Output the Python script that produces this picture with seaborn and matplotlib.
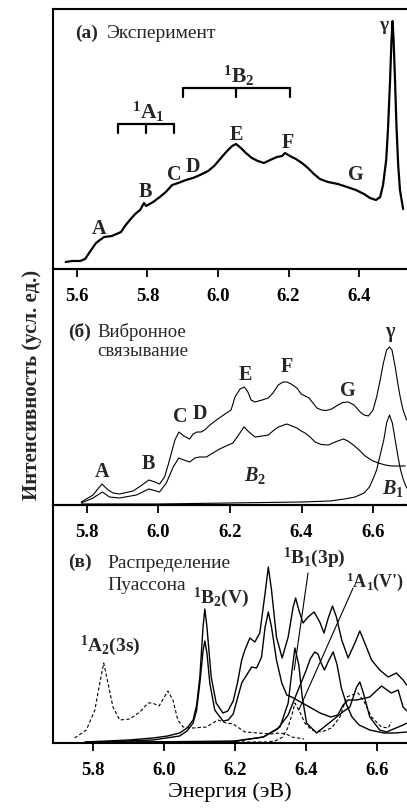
import matplotlib
matplotlib.use("Agg")
import matplotlib.pyplot as plt
import seaborn as sns

# (а) experiment
exp_e = [5.568, 5.586, 5.609, 5.623, 5.640, 5.654, 5.665, 5.677, 5.699, 5.725,
         5.736, 5.750, 5.765, 5.779, 5.790, 5.796, 5.816, 5.835, 5.852, 5.870,
         5.887, 5.909, 5.929, 5.949, 5.972, 5.989, 6.006, 6.023, 6.040, 6.051,
         6.065, 6.079, 6.096, 6.113, 6.130, 6.148, 6.167, 6.182, 6.190, 6.204,
         6.221, 6.238, 6.255, 6.272, 6.289, 6.312, 6.340, 6.366, 6.391, 6.414,
         6.431, 6.448, 6.460, 6.468, 6.477, 6.482, 6.488, 6.492, 6.495, 6.498,
         6.502, 6.506, 6.511, 6.516, 6.525]
exp_i = [7, 8, 8, 10, 19, 26, 29, 32, 33, 37,
         43, 49, 55, 59, 66, 63, 67, 72, 77, 84,
         86, 89, 91, 94, 98, 103, 110, 117, 123, 125,
         121, 116, 111, 108, 106, 109, 112, 113, 116, 113,
         110, 106, 101, 95, 90, 87, 85, 82, 79, 75,
         71, 69, 72, 84, 109, 139, 189, 229, 248, 229,
         189, 144, 104, 79, 60]
a1_prog = [5.715, 5.795, 5.876]
b2_prog = [5.900, 6.051, 6.205]
peaks_a = ["A", "B", "C", "D", "E", "F", "G"]
peaks_a_e = [5.662, 5.793, 5.875, 5.929, 6.051, 6.199, 6.391]

# (б) vibronic coupling
vib_tot_e = [5.784, 5.817, 5.828, 5.842, 5.859, 5.873, 5.891, 5.929, 5.954, 5.973,
             5.990, 6.003, 6.017, 6.027, 6.036, 6.046, 6.057, 6.071, 6.087, 6.097,
             6.108, 6.119, 6.129, 6.144, 6.162, 6.178, 6.190, 6.203, 6.214, 6.228,
             6.240, 6.250, 6.259, 6.270, 6.290, 6.307, 6.320, 6.335, 6.348, 6.359,
             6.371, 6.387, 6.399, 6.410, 6.421, 6.432, 6.443, 6.456, 6.469, 6.484,
             6.502, 6.516, 6.531, 6.547, 6.564, 6.575, 6.587, 6.600, 6.610, 6.620,
             6.629, 6.638, 6.646, 6.653, 6.662, 6.670, 6.676, 6.684, 6.694]
vib_tot_i = [3, 10, 15, 21, 15, 12, 11, 14, 20, 25,
             23, 21, 28, 40, 52, 65, 73, 69, 66, 71,
             73, 73, 75, 80, 85, 89, 92, 95, 108, 116,
             118, 113, 105, 103, 105, 107, 112, 120, 123, 123,
             121, 117, 111, 109, 107, 102, 97, 95, 94.5, 96,
             100, 102.5, 103, 100, 93, 90, 89, 95, 108, 125,
             142, 155, 158, 155, 138, 120, 108, 95, 85]
vib_b2_e = [5.784, 5.817, 5.843, 5.863, 5.891, 5.938, 5.973, 6.003, 6.022, 6.041,
            6.057, 6.071, 6.087, 6.102, 6.115, 6.134, 6.152, 6.171, 6.189, 6.208,
            6.222, 6.239, 6.253, 6.270, 6.290, 6.307, 6.320, 6.335, 6.359, 6.373,
            6.387, 6.399, 6.410, 6.424, 6.438, 6.455, 6.475, 6.494, 6.517, 6.530,
            6.545, 6.561, 6.578, 6.597, 6.615, 6.634, 6.652, 6.670, 6.690]
vib_b2_i = [2, 7, 13, 8, 7, 10, 16, 13, 22, 38,
            47, 45, 43, 47, 48, 48, 52, 56, 59, 62,
            69, 78, 73, 68, 69, 70, 74, 78, 81, 79,
            77, 74, 72, 68, 63, 60.5, 60, 63, 66, 64,
            60, 55, 49, 44.5, 42, 40, 39, 39, 39]
vib_b1_e = [5.785, 6.000, 6.200, 6.400, 6.480, 6.520, 6.550, 6.575, 6.590, 6.600,
            6.610, 6.620, 6.630, 6.638, 6.646, 6.654, 6.662, 6.670, 6.677, 6.685, 6.694]
vib_b1_i = [1, 1, 2, 3, 4, 6, 8, 12, 18, 26,
            35, 50, 65, 82, 90, 82, 65, 48, 35, 25, 17]
peaks_b = ["A", "B", "C", "D", "E", "F", "G", "γ"]
peaks_b_e = [5.841, 5.971, 6.060, 6.116, 6.242, 6.360, 6.531, 6.646]

# (в) Poisson distribution
a2_e = [5.748, 5.781, 5.805, 5.819, 5.830, 5.842, 5.856, 5.875, 5.903, 5.932,
        5.955, 5.967, 5.986, 6.011, 6.025, 6.039, 6.054, 6.082, 6.119, 6.152,
        6.175, 6.195, 6.228, 6.266, 6.300, 6.327, 6.345, 6.360, 6.395]
a2_i = [5, 13, 33, 60, 80, 60, 36, 23, 24, 31,
        40, 40, 37, 52, 43, 23, 16, 15, 16, 23,
        20, 19, 11, 10, 9, 10, 9, 6, 4]
dash2_e = [5.780, 6.000, 6.200, 6.290, 6.313, 6.335, 6.350, 6.362, 6.369, 6.383,
           6.397, 6.416, 6.444, 6.472, 6.496, 6.515, 6.529, 6.547, 6.566, 6.585,
           6.613, 6.632, 6.641]
dash2_i = [1, 1, 1, 1, 2, 6, 16, 30, 40, 31,
           20, 13, 11, 15, 26, 46, 48, 50, 40, 26,
           16, 15, 21]
sum_e = [5.777, 5.900, 5.969, 6.010, 6.044, 6.065, 6.082, 6.092, 6.101, 6.110,
         6.115, 6.121, 6.133, 6.147, 6.166, 6.180, 6.195, 6.207, 6.219, 6.228,
         6.242, 6.256, 6.270, 6.285, 6.294, 6.303, 6.317, 6.333, 6.350, 6.364,
         6.371, 6.380, 6.392, 6.406, 6.423, 6.439, 6.451, 6.463, 6.475, 6.486,
         6.501, 6.519, 6.538, 6.552, 6.566, 6.585, 6.608, 6.632, 6.655, 6.674, 6.684]
sum_i = [1, 3, 5, 7, 10, 15, 23, 38, 66, 116,
         134, 116, 66, 40, 30, 32, 42, 60, 83, 93,
         105, 101, 110, 150, 176, 153, 106, 85, 106, 136,
         145, 133, 120, 126, 131, 121, 110, 125, 137, 126,
         103, 85, 100, 112, 100, 83, 73, 66, 70, 63, 58]
b2v_e = [5.777, 5.969, 6.044, 6.065, 6.082, 6.092, 6.101, 6.110, 6.115, 6.121,
         6.129, 6.143, 6.166, 6.181, 6.195, 6.219, 6.247, 6.261, 6.275, 6.285,
         6.294, 6.303, 6.317, 6.332, 6.346, 6.360, 6.380, 6.410, 6.440, 6.470,
         6.490, 6.505, 6.519, 6.543, 6.580, 6.613, 6.641, 6.660, 6.674, 6.685]
b2v_i = [0.3, 3, 7, 12, 20, 33, 60, 92, 102, 90,
         60, 33, 22, 23, 29, 60, 76, 75, 86, 116,
         131, 116, 83, 60, 48, 46, 42, 36, 30, 26,
         28, 38, 43, 43, 46, 57, 50, 53, 36, 32]
b13p_e = [5.777, 6.000, 6.186, 6.280, 6.327, 6.350, 6.360, 6.369, 6.380, 6.390,
          6.402, 6.430, 6.476, 6.504, 6.524, 6.543, 6.552, 6.562, 6.580, 6.608,
          6.627, 6.674, 6.685]
b13p_i = [0.3, 1, 1, 6, 16, 40, 70, 95, 78, 45,
          20, 10, 23, 31, 36, 56, 61, 50, 26, 13,
          11, 18, 20]
a1v_e = [5.777, 6.200, 6.280, 6.320, 6.350, 6.378, 6.400, 6.412, 6.425, 6.434,
         6.443, 6.452, 6.465, 6.477, 6.488, 6.500, 6.515, 6.530, 6.550, 6.580,
         6.620, 6.650, 6.685]
a1v_i = [0.3, 2, 6, 14, 28, 53, 72, 84, 91, 89,
         80, 73, 83, 91, 78, 55, 38, 26, 18, 13,
         10, 10, 11]

ticks_a = [5.6, 5.8, 6.0, 6.2, 6.4]
ticks_bc = [5.8, 6.0, 6.2, 6.4, 6.6]

sns.set_theme(style="ticks")
plt.rcParams.update({
    "font.family": ["Liberation Serif", "DejaVu Serif"],
    "font.weight": "bold",
    "mathtext.fontset": "custom",
    "mathtext.default": "regular",
    "mathtext.it": "Liberation Serif:italic:bold",
    "axes.linewidth": 1.5,
    "axes.edgecolor": "black",
    "xtick.color": "black",
})

W, H = 407, 811
fig = plt.figure(figsize=(W / 100, H / 100), dpi=100)


def panel(top, bottom):
    ax = fig.add_axes([53 / W, 1 - bottom / H, 1 - 53 / W, (bottom - top) / H])
    ax.set_facecolor("none")
    ax.spines["right"].set_visible(False)
    ax.set_yticks([])
    ax.set_ylabel("")
    ax.tick_params(axis="x", direction="out", length=6, width=1.3, pad=8,
                   labelsize=13.5, colors="black")
    return ax


ax1 = panel(9, 269)
ax2 = panel(269, 505)
ax3 = panel(505, 743)

# (а)
sns.lineplot(x=exp_e, y=exp_i, ax=ax1, color="black", lw=1.6)
ax1.set_xlim(5.532, 6.536)
ax1.set_ylim(0, 260)
ax1.set_xticks(ticks_a)
for prog, lvl, lab in [(a1_prog, 145, "$^1$A$_1$"), (b2_prog, 181, "$^1$B$_2$")]:
    ax1.plot([prog[0], prog[-1]], [lvl, lvl], color="black", lw=1.6)
    for p in prog:
        ax1.plot([p, p], [lvl, lvl - 9], color="black", lw=1.6)
    ax1.text(prog[1] + 0.007, lvl + 12, lab, ha="center", va="center", fontsize=15.5)
ty = [40, 77, 94, 102, 134, 126, 94]
for lab, e, y in zip(peaks_a, peaks_a_e, ty):
    ax1.text(e, y, lab, ha="center", va="center", fontsize=14.5)
ax1.text(6.471, 243, "γ", ha="center", va="center", fontsize=14)
ax1.text(5.626, 236, "(а)", ha="center", va="center", fontsize=14)
ax1.text(5.685, 236, "Эксперимент", ha="left", va="center", fontsize=14,
         fontweight="normal")

# (б)
for e, i in [(vib_tot_e, vib_tot_i), (vib_b2_e, vib_b2_i), (vib_b1_e, vib_b1_i)]:
    sns.lineplot(x=e, y=i, ax=ax2, color="black", lw=0.8)
ax2.set_xlim(5.705, 6.695)
ax2.set_ylim(0, 236)
ax2.set_xticks(ticks_bc)
ty = [33, 41, 88, 91, 130, 138, 114, 173]
for lab, e, y in zip(peaks_b, peaks_b_e, ty):
    ax2.text(e, y, lab, ha="center", va="center", fontsize=14.5)
ax2.text(6.270, 29, "$\\mathit{B}_2$", ha="center", va="center", fontsize=14.5)
ax2.text(6.657, 16, "$\\mathit{B}_1$", ha="center", va="center", fontsize=14.5)
ax2.text(5.778, 173, "(б)", ha="center", va="center", fontsize=14)
ax2.text(5.828, 173, "Вибронное", ha="left", va="center", fontsize=13.5,
         fontweight="normal")
ax2.text(5.828, 153, "связывание", ha="left", va="center", fontsize=13.5,
         fontweight="normal")

# (в)
for e, i in [(a2_e, a2_i), (dash2_e, dash2_i)]:
    sns.lineplot(x=e, y=i, ax=ax3, color="black", lw=0.8, linestyle=(0, (3, 2)))
for e, i in [(sum_e, sum_i), (b2v_e, b2v_i), (b13p_e, b13p_i), (a1v_e, a1v_i)]:
    sns.lineplot(x=e, y=i, ax=ax3, color="black", lw=1.0)
ax3.set_xlim(5.687, 6.685)
ax3.set_ylim(0, 238)
ax3.set_xticks(ticks_bc)
ax3.plot([6.406, 6.367], [170, 73], color="black", lw=0.8)
ax3.plot([6.533, 6.380], [155, 33], color="black", lw=0.8)
ax3.text(5.848, 97, "$^1$A$_2$(3s)", ha="center", va="center", fontsize=14)
ax3.text(6.161, 145, "$^1$B$_2$(V)", ha="center", va="center", fontsize=14)
ax3.text(6.425, 185, "$^1$B$_1$(3p)", ha="center", va="center", fontsize=14)
ax3.text(6.678, 161, "$^1$A$_1$(V')", ha="right", va="center", fontsize=13)
ax3.text(5.763, 181, "(в)", ha="center", va="center", fontsize=14)
ax3.text(5.839, 180, "Распределение", ha="left", va="center", fontsize=14,
         fontweight="normal")
ax3.text(5.839, 158, "Пуассона", ha="left", va="center", fontsize=14,
         fontweight="normal")
ax3.set_xlabel("Энергия (эВ)", fontsize=16, labelpad=2, color="black")

fig.text(32 / W, 1 - 385 / H, "Интенсивность (усл. ед.)", rotation=90,
         ha="center", va="center", fontsize=15)

fig.savefig("out.png", dpi=100)
